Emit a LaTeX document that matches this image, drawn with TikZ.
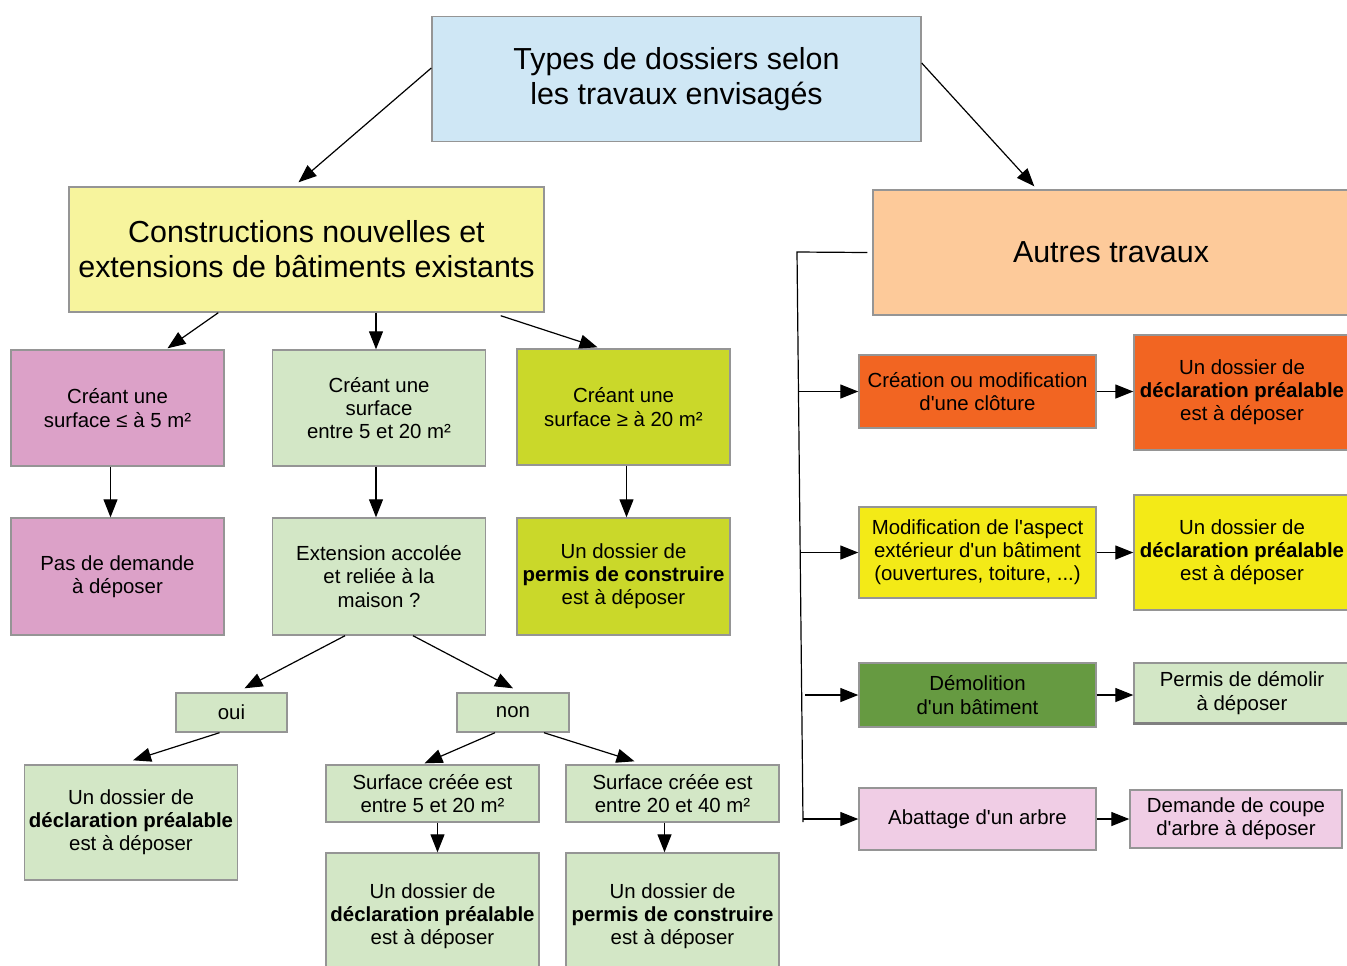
\documentclass[tikz,border=0pt]{standalone}
\usepackage{fontspec}
\setmainfont{Liberation Sans}
\usetikzlibrary{arrows.meta, positioning, calc}

\definecolor{bordure}{HTML}{959595}
\definecolor{bleu}{HTML}{CFE7F5}
\definecolor{jaunepale}{HTML}{F7F49D}
\definecolor{peche}{HTML}{FDCA9A}
\definecolor{rose}{HTML}{DCA1C8}
\definecolor{vertpale}{HTML}{D3E7C6}
\definecolor{citron}{HTML}{CAD82A}
\definecolor{orange}{HTML}{F26522}
\definecolor{jaune}{HTML}{F3EA17}
\definecolor{vertfonce}{HTML}{669A41}
\definecolor{rosepale}{HTML}{F0CDE5}

\newcommand{\txtpetit}{\fontsize{10.2}{11.6}\selectfont}
\newcommand{\txtgrand}{\fontsize{15.2}{17.5}\selectfont}
\newcommand{\ap}{\textquotesingle}

\tikzset{
  boite/.style={draw=bordure, line width=0.7pt, align=center, inner sep=1pt, font=\txtpetit},
  carre/.style={boite, minimum width=106.5pt, minimum height=58pt},
  titre/.style={boite, font=\txtgrand, minimum height=62.5pt},
  action/.style={boite, minimum width=118.5pt},
  fleche/.style={->, line width=0.6pt}
}

\begin{document}
\begin{tikzpicture}[x=0.5pt,y=-0.5pt,>={Triangle[length=9pt,width=7pt]}]

  \useasboundingbox (0,0) rectangle (1347,965);
  \clip (0,0) rectangle (1347,965);

  \node[titre, fill=bleu, minimum width=244.5pt] (types) at (676.5,79) {Types de dossiers selon\\les travaux envisagés};
  \node[titre, fill=jaunepale, minimum width=237.5pt] (constr) at (306.5,249.5) {Constructions nouvelles et\\extensions de bâtiments existants};
  \node[titre, fill=peche, minimum width=238pt] (autres) at (1111,252.5) {Autres travaux};

  % constructions nouvelles
  \node[carre, fill=rose] (petit) at (117.5,408) {Créant une\\surface ≤ à 5 m²};
  \node[carre, fill=vertpale] (moyen) at (379,408) {Créant une\\surface\\entre 5 et 20 m²};
  \node[carre, fill=citron] (grand) at (623.5,407) {Créant une\\surface ≥ à 20 m²};

  \node[carre, fill=rose, minimum height=58.5pt] (aucune) at (117.5,576.5) {Pas de demande\\à déposer};
  \node[carre, fill=vertpale, minimum height=58.5pt] (accolee) at (379,576.5) {Extension accolée\\et reliée à la\\maison ?};
  \node[carre, fill=citron, minimum height=58.5pt] (pcgrand) at (623.5,576.5) {Un dossier de\\\textbf{permis de construire}\\est à déposer};

  \node[boite, fill=vertpale, minimum width=55.5pt, minimum height=19.5pt] (oui) at (231.5,712.5) {oui};
  \node[boite, fill=vertpale, minimum width=56pt, minimum height=19.5pt] (non) at (513,712.5) {non};

  \node[carre, fill=vertpale, minimum height=57.5pt] (dpoui) at (131,822.5) {Un dossier de\\\textbf{déclaration préalable}\\est à déposer};
  \node[carre, fill=vertpale, minimum height=28.5pt] (s520) at (432.5,793.5) {Surface créée est\\entre 5 et 20 m²};
  \node[carre, fill=vertpale, minimum height=28.5pt] (s2040) at (672.5,793.5) {Surface créée est\\entre 20 et 40 m²};
  \node[carre, fill=vertpale, minimum height=63.5pt] (dp520) at (432.5,916.5) {Un dossier de\\\textbf{déclaration préalable}\\est à déposer};
  \node[carre, fill=vertpale, minimum height=63.5pt] (pc2040) at (672.5,916.5) {Un dossier de\\\textbf{permis de construire}\\est à déposer};

  % autres travaux
  \node[action, fill=orange, minimum height=36.5pt] (cloture) at (977.5,391.5) {Création ou modification\\d\ap une clôture};
  \node[carre, fill=orange, minimum width=108pt, minimum height=57.5pt] (dpcloture) at (1242,392.5) {Un dossier de\\\textbf{déclaration préalable}\\est à déposer};
  \node[action, fill=jaune, minimum height=45.5pt] (aspect) at (977.5,552.5) {Modification de l\ap aspect\\extérieur d\ap un bâtiment\\(ouvertures, toiture, ...)};
  \node[carre, fill=jaune, minimum width=108pt, minimum height=57.5pt] (dpaspect) at (1242,552.5) {Un dossier de\\\textbf{déclaration préalable}\\est à déposer};
  \node[action, fill=vertfonce, minimum height=32pt] (demol) at (977.5,695) {Démolition\\d\ap un bâtiment};
  \node[carre, fill=vertpale, minimum width=108pt, minimum height=30pt] (pd) at (1242,693) {Permis de démolir\\à déposer};
  \node[action, fill=rosepale, minimum height=31pt] (arbre) at (977.5,819) {Abattage d\ap un arbre};
  \node[carre, fill=rosepale, minimum width=106pt, minimum height=29pt] (coupe) at (1236,819) {Demande de coupe\\d\ap arbre à déposer};

  \draw[line width=1.3pt, gray] (pd.south west) -- (pd.south east);

  \coordinate (haut) at (797,252);
  \coordinate (bas) at (803,822);

  \path[fleche]
  ($(types.west)+(0,-11)$) edge ($(constr.north)+(-8,-4)$)
  ($(types.east)+(0,-16)$) edge ($(autres.north west)+(162,-3)$)

  ($(constr.south west)+(150,0)$) edge ($(petit.north)+(50,-1)$)
  ($(moyen.north |- constr.south)+(-3,0)$) edge ($(moyen.north)+(-3,0)$)
  ($(constr.south east)+(-44,3)$) edge ($(grand.north)+(-26,-1)$)

  ($(petit.south)+(-7,0)$) edge ($(aucune.north)+(-7,0)$)
  ($(moyen.south)+(-3,0)$) edge ($(accolee.north)+(-3,0)$)
  ($(grand.south)+(3,0)$) edge ($(pcgrand.north)+(3,0)$)

  ($(accolee.south)+(-34,0)$) edge ($(oui.north)+(13,-4)$)
  ($(accolee.south)+(34,0)$) edge ($(non.north)+(0,-4)$)
  ($(oui.south)+(-12,0)$) edge ($(dpoui.north)+(2,-4)$)
  ($(non.south)+(-18,0)$) edge ($(s520.north)+(-8,-1)$)
  ($(non.south)+(31,0)$) edge ($(s2040.north)+(-38,-3)$)
  ($(s520.south)+(5,0)$) edge ($(dp520.north)+(5,0)$)
  ($(s2040.south)+(-8,0)$) edge ($(pc2040.north)+(-8,0)$)
  ;

  \draw[line width=0.6pt] ($(autres.west)+(-5,0)$) -- (haut) -- (bas);

  \path[fleche]
  ($(haut |- cloture)+(2,0)$) edge (cloture)
  ($(haut |- aspect)+(4,0)$) edge (aspect)
  ($(haut |- demol)+(8,0)$) edge (demol)
  ($(bas |- arbre)+(0,0)$) edge (arbre)

  (cloture.east) edge (dpcloture.west |- cloture.east)
  (aspect.east) edge (dpaspect.west |- aspect.east)
  (demol.east) edge (pd.west |- demol.east)
  (arbre.east) edge (coupe.west |- arbre.east)
  ;

\end{tikzpicture}
\end{document}
